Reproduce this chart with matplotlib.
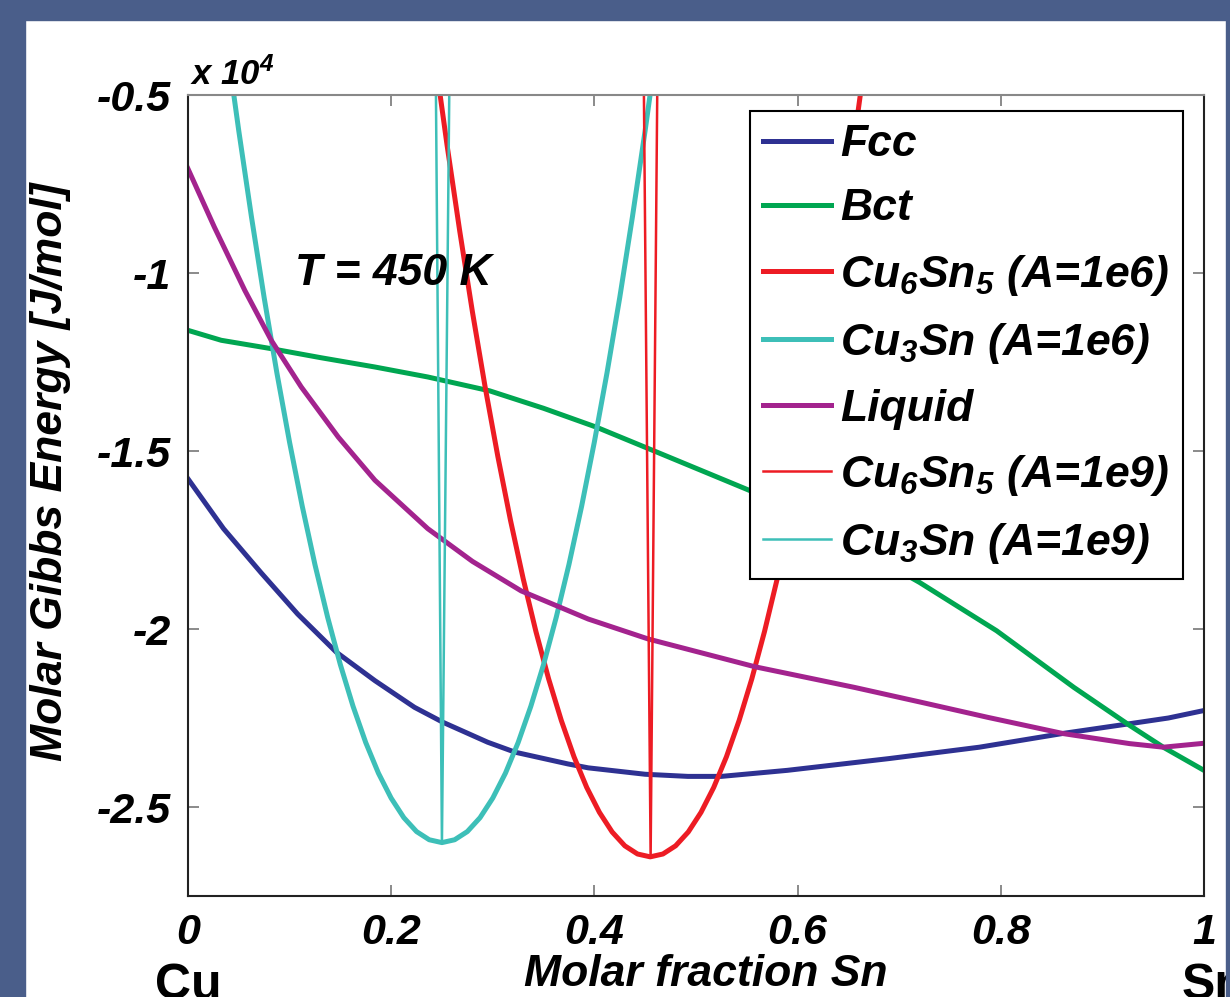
import matplotlib
matplotlib.use('Agg')
import matplotlib.pyplot as plt
from matplotlib.patches import Rectangle
from matplotlib.ticker import FuncFormatter

# Gibbs energy curves, values in units of 1e4 J/mol
fcc_x = [0, 0.035, 0.072, 0.108, 0.146, 0.184, 0.223, 0.251, 0.295, 0.322, 0.374, 0.394,
         0.45, 0.492, 0.525, 0.59, 0.69, 0.779, 0.862, 0.927, 0.965, 1.0]
fcc_y = [-1.578, -1.718, -1.842, -1.958, -2.065, -2.145, -2.22, -2.262, -2.318, -2.346, -2.379, -2.39,
         -2.408, -2.414, -2.414, -2.397, -2.364, -2.332, -2.293, -2.266, -2.25, -2.229]

bct_x = [0, 0.0328, 0.082, 0.131, 0.184, 0.236, 0.297, 0.35, 0.402, 0.459, 0.558, 0.64, 0.72,
         0.796, 0.872, 0.927, 0.96, 1.0]
bct_y = [-1.161, -1.189, -1.2125, -1.238, -1.264, -1.292, -1.331, -1.38, -1.433, -1.5, -1.617, -1.74,
         -1.869, -2.005, -2.164, -2.271, -2.332, -2.397]

liq_x = [0, 0.026, 0.056, 0.082, 0.1115, 0.148, 0.184, 0.236, 0.28, 0.328, 0.394, 0.453, 0.558,
         0.656, 0.722, 0.787, 0.862, 0.927, 0.96, 1.0]
liq_y = [-0.707, -0.871, -1.049, -1.189, -1.32, -1.461, -1.582, -1.718, -1.81, -1.893, -1.972, -2.028,
         -2.106, -2.164, -2.206, -2.248, -2.294, -2.322, -2.332, -2.321]

cu3sn_x = [0.0375, 0.05, 0.0625, 0.075, 0.0875, 0.1, 0.1125, 0.125, 0.1375, 0.15, 0.1625, 0.175,
           0.1875, 0.2, 0.2125, 0.225, 0.2375, 0.25, 0.2625, 0.275, 0.2875, 0.3, 0.3125, 0.325,
           0.3375, 0.35, 0.3625, 0.375, 0.3875, 0.4, 0.4125, 0.425, 0.4375, 0.45, 0.4625]
cu3sn_y = [-0.342, -0.60, -0.842, -1.069, -1.28, -1.475, -1.655, -1.819, -1.967, -2.10, -2.217, -2.319,
           -2.405, -2.475, -2.53, -2.569, -2.592, -2.60, -2.592, -2.569, -2.53, -2.475, -2.405, -2.319,
           -2.217, -2.10, -1.967, -1.819, -1.655, -1.475, -1.28, -1.069, -0.842, -0.60, -0.342]

cu6sn5_x = [0.2425, 0.255, 0.2675, 0.28, 0.2925, 0.305, 0.3175, 0.33, 0.3425, 0.355, 0.3675, 0.38,
            0.3925, 0.405, 0.4175, 0.43, 0.4425, 0.455, 0.4675, 0.48, 0.4925, 0.505, 0.5175, 0.53,
            0.5425, 0.555, 0.5675, 0.58, 0.5925, 0.605, 0.6175, 0.63, 0.6425, 0.655, 0.6675]
cu6sn5_y = [-0.382, -0.64, -0.882, -1.109, -1.32, -1.515, -1.695, -1.859, -2.007, -2.14, -2.257, -2.359,
            -2.445, -2.515, -2.57, -2.609, -2.632, -2.64, -2.632, -2.609, -2.57, -2.515, -2.445, -2.359,
            -2.257, -2.14, -2.007, -1.859, -1.695, -1.515, -1.32, -1.109, -0.882, -0.64, -0.382]

# stiff versions (A=1e9)
cu6sn5_9_x = [0.4488, 0.4554, 0.4619]
cu6sn5_9_y = [-0.5, -2.64, -0.5]
cu3sn_9_x = [0.2441, 0.25, 0.2572]
cu3sn_9_y = [-0.5, -2.60, -0.5]

x_ticks = [0, 0.2, 0.4, 0.6, 0.8, 1]
y_ticks = [-2.5, -2, -1.5, -1, -0.5]

plt.rcParams['font.family'] = 'Liberation Sans'
plt.rcParams['font.weight'] = 'bold'
plt.rcParams['font.style'] = 'italic'
plt.rcParams['axes.labelweight'] = 'bold'
plt.rcParams['mathtext.fontset'] = 'custom'
plt.rcParams['mathtext.rm'] = 'Liberation Sans:bold:italic'
plt.rcParams['mathtext.it'] = 'Liberation Sans:bold:italic'
plt.rcParams['mathtext.bf'] = 'Liberation Sans:bold:italic'
plt.rcParams['axes.unicode_minus'] = False
plt.rcParams['lines.solid_joinstyle'] = 'round'

fig = plt.figure(figsize=(12.3, 9.97), dpi=100)
fig.patch.set_facecolor('white')
ax = fig.add_axes([0.1528, 0.1013, 0.8260, 0.8034])

thick = 3.6
thin = 1.8
ax.plot(fcc_x, fcc_y, color='#2e3192', lw=thick, label='Fcc')
ax.plot(bct_x, bct_y, color='#00a651', lw=thick, label='Bct')
ax.plot(cu6sn5_x, cu6sn5_y, color='#ed1c24', lw=thick, label='Cu$_6$Sn$_5$ (A=1e6)')
ax.plot(cu3sn_x, cu3sn_y, color='#3dbfb8', lw=thick, label='Cu$_3$Sn (A=1e6)')
ax.plot(liq_x, liq_y, color='#a3238e', lw=thick, label='Liquid')
ax.plot(cu6sn5_9_x, cu6sn5_9_y, color='#ed1c24', lw=thin, label='Cu$_6$Sn$_5$ (A=1e9)')
ax.plot(cu3sn_9_x, cu3sn_9_y, color='#3dbfb8', lw=thin, label='Cu$_3$Sn (A=1e9)')

ax.set_xlim(0, 1)
ax.set_ylim(-2.75, -0.5)
ax.set_xticks(x_ticks)
ax.set_yticks(y_ticks)
ax.xaxis.set_major_formatter(FuncFormatter(lambda v, p: '%g' % v))
ax.yaxis.set_major_formatter(FuncFormatter(lambda v, p: '%g' % v))
ax.tick_params(direction='in', length=8, width=1.2, color='#777777', top=True, right=True,
               labelsize=31)
ax.tick_params(axis='y', pad=12)
ax.tick_params(axis='x', pad=12)
for side in ['left', 'bottom', 'right']:
    ax.spines[side].set_color('#222222')
    ax.spines[side].set_linewidth(1.5)
ax.spines['top'].set_color('#888888')
ax.spines['top'].set_linewidth(1.5)

ax.set_ylabel('Molar Gibbs Energy [J/mol]', fontsize=32, fontweight='bold', fontstyle='italic')
ax.yaxis.set_label_coords(-0.115, 0.53)
ax.set_xlabel('Molar fraction Sn', fontsize=32, fontweight='bold', fontstyle='italic')
ax.xaxis.set_label_coords(0.51, -0.072)

ax.text(0.105, -1.0, 'T = 450 K', fontsize=32, va='center')

leg = ax.legend(loc='upper right', bbox_to_anchor=(0.979, 0.98), fontsize=32, frameon=True,
                fancybox=False, edgecolor='black', framealpha=1, handlelength=1.53,
                handletextpad=0.2, labelspacing=0.52, borderpad=0.3, borderaxespad=0)
leg.get_frame().set_linewidth(1.5)

fig.text(190 / 1230, 1 - 85 / 997, 'x 10$^{4}$', fontsize=25, va='baseline')
fig.text(188 / 1230, 1 - 963 / 997, 'Cu', fontsize=36, ha='center', va='top',
         fontstyle='normal', fontweight='bold')
fig.text(1182 / 1230, 1 - 963 / 997, 'Sn', fontsize=36, ha='left', va='top',
         fontstyle='normal', fontweight='bold')

# slide frame around the white panel
frame = '#4a5e8a'
fig.patches.append(Rectangle((0, 0), 25 / 1230, 1, transform=fig.transFigure, color=frame, zorder=10))
fig.patches.append(Rectangle((0, 1 - 20 / 997), 1, 20 / 997, transform=fig.transFigure, color=frame, zorder=10))
fig.patches.append(Rectangle((1226 / 1230, 0), 4 / 1230, 1, transform=fig.transFigure, color=frame, zorder=10))

plt.savefig('out.png', dpi=100)
